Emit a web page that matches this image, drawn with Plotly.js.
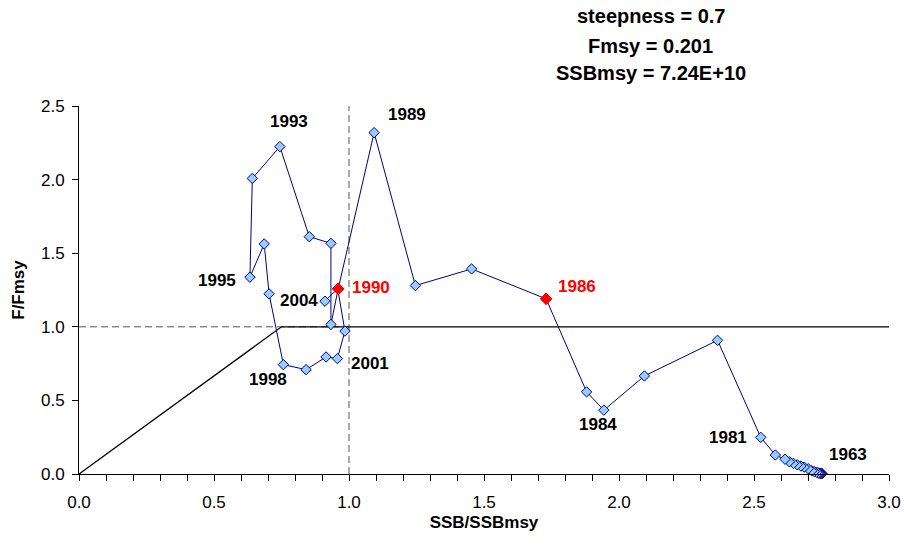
<!DOCTYPE html>
<html>
<head>
<meta charset="utf-8">
<script src="https://cdn.plot.ly/plotly-3.0.1.min.js"></script>
<style>html,body{margin:0;padding:0;background:#fff;}#chart{width:904px;height:549px;}</style>
</head>
<body>
<div id="chart"></div>
<script>
// Trajectory SSB/SSBmsy vs F/Fmsy, in time order (first point = 1963)
const ssbRatio = [
  2.752, 2.751, 2.749, 2.747, 2.744, 2.741, 2.738, 2.732, 2.723, 2.714,
  2.701, 2.686, 2.674, 2.660, 2.646, 2.631, 2.615, 2.579, 2.525,
  2.365, 2.094, 1.944, 1.880, 1.730, 1.454, 1.246, 1.093, 0.960,
  0.933, 0.933, 0.853, 0.744, 0.642, 0.633, 0.686, 0.704, 0.757,
  0.841, 0.915, 0.957, 0.985, 0.958, 0.911
];
const fRatio = [
  0.002, 0.003, 0.003, 0.004, 0.005, 0.006, 0.007, 0.012, 0.016, 0.022,
  0.036, 0.047, 0.054, 0.063, 0.072, 0.083, 0.100, 0.129, 0.249,
  0.908, 0.666, 0.434, 0.558, 1.190, 1.393, 1.280, 2.319, 1.258,
  1.016, 1.567, 1.612, 2.224, 2.008, 1.337, 1.563, 1.224, 0.743,
  0.709, 0.795, 0.784, 0.971, 1.260, 1.174
];
// Highlighted years (red) and year labels, as indexes into the series
const highlightIdx = [23, 27];
const labelText = ["1963", "1981", "1984", "1986", "1989", "1990", "1993", "1995", "1998", "2001", "2004"];
const labelIdx  = [0, 18, 21, 23, 26, 27, 31, 33, 36, 39, 42];
// Reference lines
const ruleX = [0, 0.75, 3.0];
const ruleY = [0, 1, 1];
const hDashX = [0, 1.0];
const hDashY = [1, 1];
const vDashX = [1, 1];
const vDashY = [0, 2.5];
const infoLines = ["steepness = 0.7", "Fmsy = 0.201", "SSBmsy = 7.24E+10"];
const xTitle = "SSB/SSBmsy";
const yTitle = "F/Fmsy";

const FONT = "Liberation Sans, Arial, sans-serif";
const labelShift = {
  "1963": [26, 19], "1981": [-33, 0], "1984": [-6, -14], "1986": [31, 12],
  "1989": [33, 18], "1990": [33, 1], "1993": [9, 25], "1995": [-33, -3],
  "1998": [-15, -15], "2001": [33, -5], "2004": [-26, 1]
};
const redYears = highlightIdx.map(i => labelText[labelIdx.indexOf(i)]);

const traces = [
  {x: hDashX, y: hDashY, mode: 'lines', line: {color: '#555555', width: 1, dash: '7px,4px'}, hoverinfo: 'skip'},
  {x: vDashX, y: vDashY, mode: 'lines', line: {color: '#555555', width: 1, dash: '7px,4px'}, hoverinfo: 'skip', cliponaxis: false},
  {x: ruleX, y: ruleY, mode: 'lines', line: {color: '#000000', width: 1.3}, hoverinfo: 'skip'},
  {x: ssbRatio, y: fRatio, mode: 'lines+markers', cliponaxis: false,
   line: {color: '#000080', width: 1},
   marker: {symbol: 'diamond', size: 8, color: '#99CCFF', line: {color: '#000080', width: 1}}},
  {x: highlightIdx.map(i => ssbRatio[i]), y: highlightIdx.map(i => fRatio[i]), mode: 'markers', cliponaxis: false,
   marker: {symbol: 'diamond', size: 9, color: '#FF0000', line: {color: '#FF0000', width: 1}}}
];

const annotations = labelText.map((t, k) => ({
  x: ssbRatio[labelIdx[k]], y: fRatio[labelIdx[k]], xref: 'x', yref: 'y',
  text: '<b>' + t + '</b>', showarrow: false,
  xshift: labelShift[t][0], yshift: labelShift[t][1],
  font: {family: FONT, size: 17, color: redYears.includes(t) ? '#FF0000' : '#000000'}
}));
const infoY = [1.244, 1.163, 1.089];
infoLines.forEach((t, k) => annotations.push({
  x: 0.706, y: infoY[k], xref: 'paper', yref: 'paper', text: '<b>' + t + '</b>',
  showarrow: false, xanchor: 'center', yanchor: 'middle',
  font: {family: FONT, size: 20, color: '#000000'}
}));

const layout = {
  width: 904, height: 549,
  margin: {l: 79, r: 15, t: 106, b: 75, pad: 0},
  paper_bgcolor: '#ffffff', plot_bgcolor: '#ffffff',
  showlegend: false,
  font: {family: FONT, size: 17, color: '#000000'},
  xaxis: {
    range: [0, 3], dtick: 0.5, tick0: 0, tickformat: '.1f',
    showgrid: false, zeroline: false, showline: true, linecolor: '#000000', linewidth: 1,
    ticks: 'outside', ticklen: 6, tickcolor: '#000000', tickwidth: 1,
    minor: {dtick: 0.1, ticks: 'outside', ticklen: 6, tickcolor: '#000000', tickwidth: 1, showgrid: false},
    ticklabelstandoff: 7,
    tickfont: {family: FONT, size: 17},
    title: {text: '<b>' + xTitle + '</b>', font: {family: FONT, size: 17}, standoff: 4}
  },
  yaxis: {
    range: [0, 2.5], dtick: 0.5, tick0: 0, tickformat: '.1f',
    showgrid: false, zeroline: false, showline: true, linecolor: '#000000', linewidth: 1,
    ticks: 'outside', ticklen: 6, tickcolor: '#000000', tickwidth: 1,
    ticklabelstandoff: 4,
    tickfont: {family: FONT, size: 17},
    title: {text: '<b>' + yTitle + '</b>', font: {family: FONT, size: 17}, standoff: 12}
  },
  annotations: annotations
};

Plotly.newPlot('chart', traces, layout, {staticPlot: true, displayModeBar: false});
</script>
</body>
</html>
